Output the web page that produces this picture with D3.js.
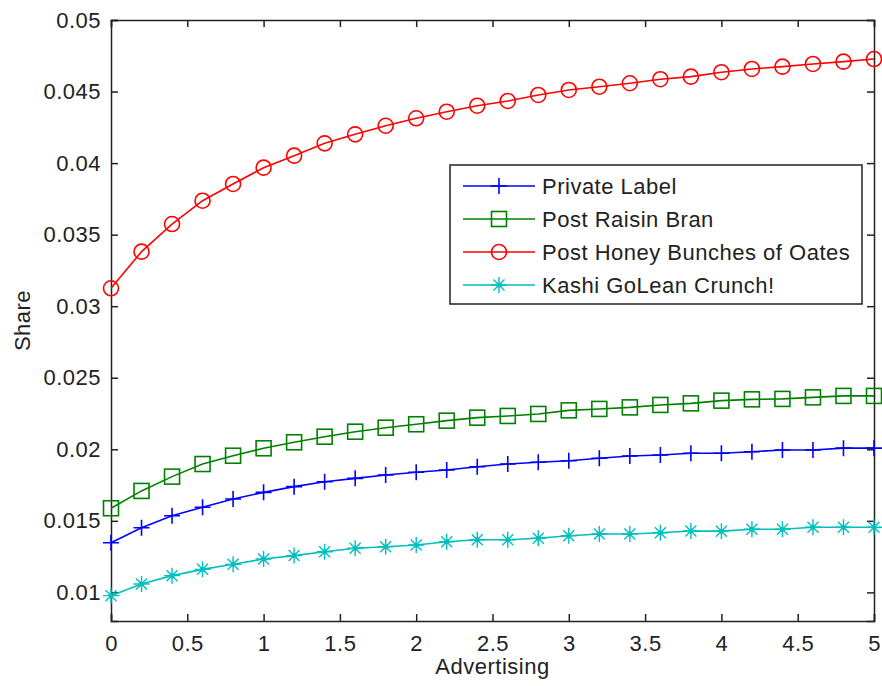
<!DOCTYPE html>
<html>
<head>
<meta charset="utf-8">
<script src="https://cdn.jsdelivr.net/npm/d3@7"></script>
<style>
  body { margin: 0; background: #fff; }
  text { font-family: "Liberation Sans", Arial, sans-serif; fill: #222; letter-spacing: 0.5px; }
</style>
</head>
<body>
<svg id="chart" width="882" height="686"></svg>
<script>
// advertising levels
let advertising = [0, 0.2, 0.4, 0.6, 0.8, 1, 1.2, 1.4, 1.6, 1.8, 2, 2.2, 2.4, 2.6, 2.8, 3, 3.2, 3.4, 3.6, 3.8, 4, 4.2, 4.4, 4.6, 4.8, 5];

let privateLabel = [0.01347, 0.01452, 0.01536, 0.01595, 0.01653, 0.01699, 0.01739, 0.01773, 0.01797, 0.0182,
  0.01839, 0.01855, 0.01878, 0.01897, 0.01909, 0.0192, 0.01937, 0.01953, 0.0196, 0.01972,
  0.01972, 0.01983, 0.01995, 0.01995, 0.02008, 0.02008];
let raisinBran = [0.01588, 0.01709, 0.01809, 0.01897, 0.01955, 0.02007, 0.02049, 0.02088, 0.02123, 0.02151,
  0.02175, 0.022, 0.02221, 0.02233, 0.02247, 0.02272, 0.02282, 0.02293, 0.0231, 0.02321,
  0.0234, 0.02349, 0.02352, 0.02363, 0.02373, 0.02373];
let honeyBunches = [0.03125, 0.03381, 0.03574, 0.03737, 0.03854, 0.03968, 0.04052, 0.04138, 0.04201, 0.04261,
  0.04313, 0.04359, 0.04401, 0.04434, 0.04476, 0.04511, 0.04534, 0.04558, 0.04586, 0.04604,
  0.04635, 0.04658, 0.04674, 0.04693, 0.04709, 0.04727];
let kashi = [0.00977, 0.01059, 0.01117, 0.01161, 0.01196, 0.01233, 0.01257, 0.01284, 0.01308, 0.01319,
  0.01331, 0.01354, 0.01368, 0.01368, 0.01378, 0.01396, 0.01408, 0.01408, 0.01417, 0.01429,
  0.01428, 0.01441, 0.01441, 0.01455, 0.01455, 0.01455];

let seriesNames = ["Private Label", "Post Raisin Bran", "Post Honey Bunches of Oates", "Kashi GoLean Crunch!"];
let xTicks = [0, 0.5, 1, 1.5, 2, 2.5, 3, 3.5, 4, 4.5, 5];
let yTicks = [0.01, 0.015, 0.02, 0.025, 0.03, 0.035, 0.04, 0.045, 0.05];

let series = [
  { name: seriesNames[0], values: privateLabel, color: "#0000ff", marker: "plus" },
  { name: seriesNames[1], values: raisinBran, color: "#008000", marker: "square" },
  { name: seriesNames[2], values: honeyBunches, color: "#ff0000", marker: "circle" },
  { name: seriesNames[3], values: kashi, color: "#00bfbf", marker: "star" },
];

let margin = { top: 20, right: 8, bottom: 65, left: 111 },
  width = 882 - margin.left - margin.right,
  height = 686 - margin.top - margin.bottom;

let svg = d3.select("#chart");
let g = svg.append("g").attr("transform", "translate(" + margin.left + "," + margin.top + ")");

let x = d3.scaleLinear().domain([0, 5]).range([0, width]);
let y = d3.scaleLinear().domain([0.008, 0.05]).range([height, 0]);

let fmt = d3.format("");
let tickLen = 7;

// axes: ticks point inward, mirrored on top and right
g.append("g")
  .attr("transform", "translate(0," + height + ")")
  .call(d3.axisBottom(x).tickValues(xTicks).tickSize(-tickLen).tickPadding(14).tickFormat(fmt));
g.append("g")
  .call(d3.axisTop(x).tickValues(xTicks).tickSize(-tickLen).tickFormat(""));
g.append("g")
  .call(d3.axisLeft(y).tickValues(yTicks).tickSize(-tickLen).tickPadding(10).tickFormat(fmt));
g.append("g")
  .attr("transform", "translate(" + width + ",0)")
  .call(d3.axisRight(y).tickValues(yTicks).tickSize(-tickLen).tickFormat(""));

g.selectAll(".domain").attr("stroke", "#222").attr("stroke-width", 1.5);
g.selectAll(".tick line").attr("stroke", "#222").attr("stroke-width", 1.5);
g.selectAll(".tick text").attr("font-size", "22px").attr("fill", "#222")
  .attr("font-family", "'Liberation Sans', Arial, sans-serif");

// axis labels
svg.append("text")
  .attr("x", margin.left + x(2.5))
  .attr("y", 674)
  .attr("text-anchor", "middle")
  .attr("font-size", "22px")
  .text("Advertising");
svg.append("text")
  .attr("transform", "translate(30," + (margin.top + height / 2) + ") rotate(-90)")
  .attr("text-anchor", "middle")
  .attr("font-size", "22px")
  .text("Share");

function drawMarker(sel, type, color) {
  if (type === "circle") {
    sel.append("circle").attr("r", 7.5).attr("fill", "none").attr("stroke", color).attr("stroke-width", 1.6);
  } else if (type === "square") {
    sel.append("rect").attr("x", -7.5).attr("y", -7.5).attr("width", 15).attr("height", 15)
      .attr("fill", "none").attr("stroke", color).attr("stroke-width", 1.6);
  } else if (type === "plus") {
    sel.append("path").attr("d", "M-8,0H8M0,-8V8").attr("stroke", color).attr("stroke-width", 1.6);
  } else if (type === "star") {
    sel.append("path").attr("d", "M-8,0H8M0,-8V8M-5.5,-5.5L5.5,5.5M-5.5,5.5L5.5,-5.5")
      .attr("stroke", color).attr("stroke-width", 1.4);
    sel.append("circle").attr("r", 2.5).attr("fill", color);
  }
}

let line = d3.line()
  .x(function (d) { return x(d[0]); })
  .y(function (d) { return y(d[1]); });

series.forEach(function (s) {
  let pts = advertising.map(function (a, i) { return [a, s.values[i]]; });
  g.append("path")
    .datum(pts)
    .attr("fill", "none")
    .attr("stroke", s.color)
    .attr("stroke-width", 1.6)
    .attr("d", line);
  g.selectAll(null)
    .data(pts)
    .enter()
    .append("g")
    .attr("transform", function (d) { return "translate(" + x(d[0]) + "," + y(d[1]) + ")"; })
    .each(function () { drawMarker(d3.select(this), s.marker, s.color); });
});

// legend
let legend = svg.append("g").attr("transform", "translate(450,165)");
legend.append("rect")
  .attr("width", 412).attr("height", 139)
  .attr("fill", "#fff").attr("stroke", "#222").attr("stroke-width", 1.5);
series.forEach(function (s, i) {
  let row = legend.append("g").attr("transform", "translate(0," + (21 + i * 33) + ")");
  row.append("line").attr("x1", 13).attr("x2", 85).attr("stroke", s.color).attr("stroke-width", 1.6);
  drawMarker(row.append("g").attr("transform", "translate(49,0)"), s.marker, s.color);
  row.append("text")
    .attr("x", 92)
    .attr("y", 8)
    .attr("font-size", "22px")
    .text(s.name);
});
</script>
</body>
</html>
